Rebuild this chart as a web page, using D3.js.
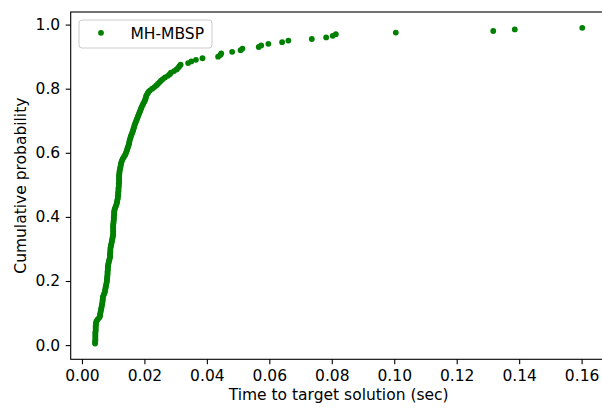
<!DOCTYPE html>
<html>
<head>
<meta charset="utf-8">
<script src="https://cdn.jsdelivr.net/npm/d3@7"></script>
<style>
  html, body { margin: 0; padding: 0; background: #fff; }
  svg { display: block; font-family: "DejaVu Sans", sans-serif; }
</style>
</head>
<body>
<svg id="chart" width="602" height="408"></svg>
<script>
// ---- data ----
const seriesName = "MH-MBSP";
const xTicks = [0.00, 0.02, 0.04, 0.06, 0.08, 0.10, 0.12, 0.14, 0.16];
const yTicks = [0.0, 0.2, 0.4, 0.6, 0.8, 1.0];
const xLabel = "Time to target solution (sec)";
const yLabel = "Cumulative probability";

const times = [
  0.0042, 0.0042, 0.0043, 0.0043, 0.0043, 0.0043, 0.0043, 0.0043, 0.0044, 0.0044,
  0.0044, 0.0044, 0.0045, 0.0045, 0.0047, 0.0050, 0.0055, 0.0058, 0.0058, 0.0059,
  0.0060, 0.0061, 0.0062, 0.0063, 0.0064, 0.0065, 0.0066, 0.0066, 0.0067, 0.0067,
  0.0069, 0.0071, 0.0073, 0.0074, 0.0075, 0.0076, 0.0077, 0.0078, 0.0079, 0.0080,
  0.0080, 0.0081, 0.0081, 0.0082, 0.0082, 0.0082, 0.0083, 0.0083, 0.0083, 0.0084,
  0.0085, 0.0086, 0.0087, 0.0089, 0.0090, 0.0090, 0.0090, 0.0091, 0.0091, 0.0091,
  0.0092, 0.0093, 0.0094, 0.0095, 0.0096, 0.0097, 0.0098, 0.0099, 0.0100, 0.0100,
  0.0100, 0.0100, 0.0100, 0.0100, 0.0100, 0.0101, 0.0101, 0.0102, 0.0102, 0.0102,
  0.0103, 0.0103, 0.0103, 0.0104, 0.0105, 0.0107, 0.0109, 0.0111, 0.0112, 0.0113,
  0.0114, 0.0115, 0.0115, 0.0116, 0.0116, 0.0117, 0.0117, 0.0117, 0.0118, 0.0118,
  0.0118, 0.0119, 0.0119, 0.0119, 0.0119, 0.0119, 0.0120, 0.0120, 0.0121, 0.0122,
  0.0123, 0.0124, 0.0125, 0.0126, 0.0128, 0.0130, 0.0133, 0.0136, 0.0139, 0.0141,
  0.0143, 0.0145, 0.0146, 0.0148, 0.0150, 0.0151, 0.0152, 0.0153, 0.0155, 0.0156,
  0.0158, 0.0160, 0.0162, 0.0164, 0.0165, 0.0167, 0.0168, 0.0170, 0.0172, 0.0174,
  0.0176, 0.0178, 0.0180, 0.0182, 0.0184, 0.0186, 0.0188, 0.0190, 0.0192, 0.0195,
  0.0197, 0.0200, 0.0202, 0.0204, 0.0205, 0.0207, 0.0210, 0.0213, 0.0218, 0.0225,
  0.0232, 0.0238, 0.0243, 0.0248, 0.0253, 0.0259, 0.0266, 0.0275, 0.0281, 0.0285,
  0.0295, 0.0303, 0.0308, 0.0312, 0.0316, 0.0340, 0.0350, 0.0365, 0.0386, 0.0436,
  0.0443, 0.0446, 0.0481, 0.0508, 0.0514, 0.0566, 0.0574, 0.0597, 0.0641, 0.0661,
  0.0736, 0.0782, 0.0803, 0.0813, 0.1005, 0.1317, 0.1386, 0.1602
];

const probs = [
  0.005, 0.010, 0.015, 0.020, 0.025, 0.030, 0.035, 0.040, 0.045, 0.050,
  0.055, 0.060, 0.065, 0.070, 0.075, 0.080, 0.085, 0.090, 0.095, 0.100,
  0.105, 0.110, 0.115, 0.120, 0.125, 0.130, 0.135, 0.140, 0.145, 0.150,
  0.155, 0.160, 0.165, 0.170, 0.175, 0.180, 0.185, 0.190, 0.195, 0.200,
  0.205, 0.210, 0.215, 0.220, 0.225, 0.230, 0.235, 0.240, 0.245, 0.250,
  0.255, 0.260, 0.265, 0.270, 0.275, 0.280, 0.285, 0.290, 0.295, 0.300,
  0.305, 0.310, 0.315, 0.320, 0.325, 0.330, 0.335, 0.340, 0.345, 0.350,
  0.355, 0.360, 0.365, 0.370, 0.375, 0.380, 0.385, 0.390, 0.395, 0.400,
  0.405, 0.410, 0.415, 0.420, 0.425, 0.430, 0.435, 0.440, 0.445, 0.450,
  0.455, 0.460, 0.465, 0.470, 0.475, 0.480, 0.485, 0.490, 0.495, 0.500,
  0.505, 0.510, 0.515, 0.520, 0.525, 0.530, 0.535, 0.540, 0.545, 0.550,
  0.555, 0.560, 0.565, 0.570, 0.575, 0.580, 0.585, 0.590, 0.595, 0.600,
  0.605, 0.610, 0.615, 0.620, 0.625, 0.630, 0.635, 0.640, 0.645, 0.650,
  0.655, 0.660, 0.665, 0.670, 0.675, 0.680, 0.685, 0.690, 0.695, 0.700,
  0.705, 0.710, 0.715, 0.720, 0.725, 0.730, 0.735, 0.740, 0.745, 0.750,
  0.755, 0.760, 0.765, 0.770, 0.775, 0.780, 0.785, 0.790, 0.795, 0.800,
  0.805, 0.810, 0.815, 0.820, 0.825, 0.830, 0.835, 0.840, 0.845, 0.850,
  0.855, 0.860, 0.865, 0.870, 0.875, 0.880, 0.885, 0.890, 0.895, 0.900,
  0.905, 0.910, 0.915, 0.920, 0.925, 0.930, 0.935, 0.940, 0.945, 0.950,
  0.955, 0.960, 0.965, 0.970, 0.975, 0.980, 0.985, 0.990
];

// ---- layout ----
const W = 602, H = 408;
const plot = { left: 70.7, right: 606.6, top: 12, bottom: 359.3 };
const fontSize = 15.5;
const color = "#008000";

const svg = d3.select("#chart");
svg.append("rect").attr("width", W).attr("height", H).attr("fill", "#fff");

const data = times.map((t, i) => ({ t, p: probs[i] }));

// matplotlib-like 5% margins
const [x0, x1] = d3.extent(times);
const [y0, y1] = d3.extent(probs);
const mx = (x1 - x0) * 0.05, my = (y1 - y0) * 0.05;

const x = d3.scaleLinear().domain([x0 - mx, x1 + mx]).range([plot.left, plot.right]);
const y = d3.scaleLinear().domain([y0 - my, y1 + my]).range([plot.bottom, plot.top]);

// points
svg.append("g")
  .selectAll("circle")
  .data(data)
  .join("circle")
  .attr("cx", d => x(d.t))
  .attr("cy", d => y(d.p))
  .attr("r", 2.9)
  .attr("fill", color);

// axes
const xAxis = d3.axisBottom(x).tickValues(xTicks).tickFormat(d3.format(".2f"))
  .tickSizeInner(5).tickSizeOuter(0).tickPadding(5.5);
const yAxis = d3.axisLeft(y).tickValues(yTicks).tickFormat(d3.format(".1f"))
  .tickSizeInner(5).tickSizeOuter(0).tickPadding(5.5);

const gx = svg.append("g").attr("transform", `translate(0,${plot.bottom})`).call(xAxis);
const gy = svg.append("g").attr("transform", `translate(${plot.left},0)`).call(yAxis);
[gx, gy].forEach(g => {
  g.select(".domain").remove();
  g.selectAll(".tick line").attr("stroke", "#000").attr("stroke-width", 1.1);
  g.selectAll(".tick text")
    .attr("fill", "#000")
    .style("font-family", "'DejaVu Sans', sans-serif")
    .style("font-size", fontSize + "px");
});

// frame (spines)
svg.append("rect")
  .attr("x", plot.left).attr("y", plot.top)
  .attr("width", plot.right - plot.left).attr("height", plot.bottom - plot.top)
  .attr("fill", "none").attr("stroke", "#000").attr("stroke-width", 1.1);

// axis labels
svg.append("text")
  .attr("x", (plot.left + Math.min(plot.right, W)) / 2 + 0)
  .attr("x", x((x0 - mx + x1 + mx) / 2))
  .attr("y", 400)
  .attr("text-anchor", "middle")
  .style("font-size", fontSize + "px")
  .attr("fill", "#000")
  .text(xLabel);

svg.append("text")
  .attr("transform", `translate(25.5,${(plot.top + plot.bottom) / 2}) rotate(-90)`)
  .attr("text-anchor", "middle")
  .style("font-size", fontSize + "px")
  .attr("fill", "#000")
  .text(yLabel);

// legend
const lg = svg.append("g");
lg.append("rect")
  .attr("x", 79).attr("y", 20).attr("width", 133).attr("height", 28).attr("rx", 3)
  .attr("fill", "#fff").attr("fill-opacity", 0.8)
  .attr("stroke", "#cccccc").attr("stroke-width", 1);
lg.append("circle").attr("cx", 101).attr("cy", 32.8).attr("r", 2.9).attr("fill", color);
lg.append("text").attr("x", 130.5).attr("y", 39)
  .style("font-size", fontSize + "px").attr("fill", "#000")
  .text(seriesName);
</script>
</body>
</html>
